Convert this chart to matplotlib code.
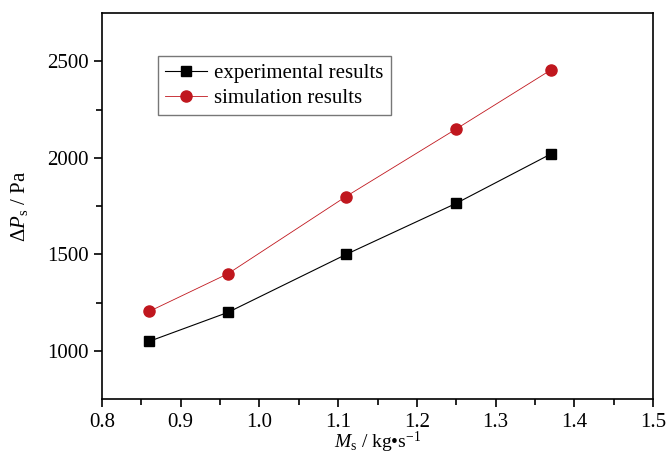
import matplotlib
matplotlib.use("Agg")
import matplotlib.pyplot as plt

ms = [0.86, 0.96, 1.11, 1.25, 1.37]
exp_vals = [1050, 1200, 1500, 1765, 2020]
sim_vals = [1205, 1400, 1800, 2150, 2455]
xticks = [0.8, 0.9, 1.0, 1.1, 1.2, 1.3, 1.4, 1.5]
yticks = [1000, 1500, 2000, 2500]

plt.rcParams['font.family'] = ['Liberation Serif', 'DejaVu Serif']
plt.rcParams['mathtext.fontset'] = 'custom'
plt.rcParams['mathtext.rm'] = 'Liberation Serif'
plt.rcParams['mathtext.it'] = 'Liberation Serif:italic'

fig = plt.figure(figsize=(6.7, 4.59), dpi=100)
ax = fig.add_axes([0.152, 0.13, 0.823, 0.8417])

ax.plot(ms, exp_vals, color='black', lw=0.8, marker='s', ms=7,
        label='experimental results')
ax.plot(ms, sim_vals, color='#c0171e', lw=0.6, marker='o', ms=8,
        markeredgecolor='#c0171e', markerfacecolor='#c0171e',
        label='simulation results')

ax.set_xlim(0.8, 1.5)
ax.set_ylim(750, 2750)
ax.set_xticks(xticks)
ax.set_xticklabels([f"{v:.1f}" for v in xticks])
ax.set_yticks(yticks)
ax.set_xticks([0.85, 0.95, 1.05, 1.15, 1.25, 1.35, 1.45], minor=True)
ax.set_yticks([1250, 1750, 2250], minor=True)
ax.tick_params(axis='both', which='major', direction='out', length=6, width=1.2,
               labelsize=15, top=False, right=False)
ax.tick_params(axis='both', which='minor', direction='out', length=4, width=1.2,
               top=False, right=False)
for s in ax.spines.values():
    s.set_linewidth(1.2)

ax.set_xlabel(r"$M_{\mathrm{s}}$ / kg•s$^{\mathregular{-1}}$", fontsize=14, labelpad=-1)
ax.set_ylabel(r"$\mathit{ΔP}_{\mathrm{s}}$ / Pa", fontsize=15, labelpad=12)

leg = ax.legend(loc='upper left', bbox_to_anchor=(0.083, 0.915), fontsize=15,
                frameon=True, fancybox=False, handlelength=2.0, borderpad=0.35,
                labelspacing=0.25, handletextpad=0.35)
leg.get_frame().set_edgecolor('#555555')
leg.get_frame().set_linewidth(1.0)

fig.savefig('out.png', dpi=100)
